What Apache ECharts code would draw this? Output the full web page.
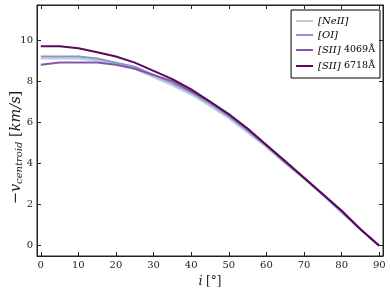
<!DOCTYPE html>
<html><head><meta charset="utf-8">
<script src="https://cdn.jsdelivr.net/npm/echarts@6/dist/echarts.min.js"></script>
<style>html,body{margin:0;padding:0;background:#fff}#c{width:390px;height:291px}</style>
</head><body><div id="c"></div>
<script>
const inclination = [0,5,10,15,20,25,30,35,40,45,50,55,60,65,70,75,80,85,90];
const neII   = [9.1,9.1,9.1,9.0,8.85,8.6,8.2,7.8,7.35,6.8,6.2,5.5,4.8,4.0,3.25,2.45,1.6,0.8,0.0];
const oI     = [9.2,9.2,9.2,9.1,8.9,8.7,8.3,7.9,7.45,6.9,6.3,5.6,4.85,4.05,3.3,2.5,1.65,0.8,0.0];
const sII4069= [8.8,8.9,8.9,8.9,8.8,8.6,8.3,8.0,7.5,7.0,6.35,5.65,4.9,4.1,3.3,2.5,1.7,0.8,0.0];
const sII6718= [9.7,9.7,9.6,9.4,9.2,8.9,8.5,8.1,7.6,7.0,6.4,5.7,4.9,4.1,3.3,2.5,1.7,0.8,0.0];
const xTicks = [0,10,20,30,40,50,60,70,80,90];
const yTicks = [0,2,4,6,8,10];
const seriesNames = ['[NeII]','[OI]','[SII] 4069Å','[SII] 6718Å'];
const seriesData = [neII, oI, sII4069, sII6718];
const colors = ['#b3cde3','#8c96c6','#8856a7','#5a0a5a'];

const serif = '"DejaVu Serif", "Liberation Serif", serif';
const chart = echarts.init(document.getElementById('c'));
const axisLine = {show:true, onZero:false, lineStyle:{color:'#222', width:1}};
const legendLabel = {
  '[NeII]': '{i|[NeII]}',
  '[OI]': '{i|[OI]}',
  '[SII] 4069Å': '{i|[SII]} {n|4069Å}',
  '[SII] 6718Å': '{i|[SII]} {n|6718Å}'
};
chart.setOption({
  animation:false,
  grid:{left:37, right:7, top:5, bottom:35, containLabel:false, outerBoundsMode:'none',
        show:true, borderColor:'#222', borderWidth:1, backgroundColor:'transparent'},
  legend:{
    data: seriesNames, right:10, top:10, orient:'vertical',
    borderColor:'#000', borderWidth:1, borderRadius:0, padding:[6,5,6,5],
    itemWidth:17, itemHeight:2, itemGap:4, icon:'rect',
    formatter: n => legendLabel[n],
    textStyle:{rich:{
      i:{fontFamily:serif, fontStyle:'italic', fontSize:10, color:'#000', lineHeight:13},
      n:{fontFamily:serif, fontSize:9.5, color:'#000', lineHeight:13}
    }}
  },
  xAxis:[{
    type:'value', min:-1, max:91, position:'bottom',
    axisLine, splitLine:{show:false},
    axisTick:{show:true, inside:true, length:4, customValues:xTicks, lineStyle:{color:'#222'}},
    axisLabel:{customValues:xTicks, fontFamily:serif, fontSize:10, color:'#222', margin:4},
    name:'{i|i} {n|[°]}', nameLocation:'middle', nameGap:19, nameMoveOverlap:false,
    nameTextStyle:{rich:{
      i:{fontFamily:serif, fontStyle:'italic', fontSize:13, color:'#222'},
      n:{fontFamily:serif, fontSize:12, color:'#222'}
    }}
  },{
    type:'value', min:-1, max:91, position:'top',
    axisLine, splitLine:{show:false},
    axisTick:{show:true, inside:true, length:4, customValues:xTicks, lineStyle:{color:'#222'}},
    axisLabel:{show:false}
  }],
  yAxis:[{
    type:'value', min:-0.5, max:11.7, position:'left',
    axisLine, splitLine:{show:false},
    axisTick:{show:true, inside:true, length:4, customValues:yTicks, lineStyle:{color:'#222'}},
    axisLabel:{customValues:yTicks, fontFamily:serif, fontSize:10, color:'#222', margin:4},
    name:'{n|−}{i|v}{s|centroid}{n| [}{i|km/s}{n|]}', nameLocation:'middle', nameGap:13, nameRotate:90,
    nameMoveOverlap:false,
    nameTextStyle:{padding:[0,34,0,0], rich:{
      i:{fontFamily:serif, fontStyle:'italic', fontSize:14.5, color:'#222'},
      s:{fontFamily:serif, fontStyle:'italic', fontSize:10, color:'#222', verticalAlign:'bottom', padding:[6,0,0,0]},
      n:{fontFamily:serif, fontSize:14.5, color:'#222'}
    }}
  },{
    type:'value', min:-0.5, max:11.7, position:'right',
    axisLine, splitLine:{show:false},
    axisTick:{show:true, inside:true, length:4, customValues:yTicks, lineStyle:{color:'#222'}},
    axisLabel:{show:false}
  }],
  series: seriesNames.map((n,k)=>({
    name:n, type:'line', symbol:'none', color:colors[k],
    lineStyle:{width:2, color:colors[k]},
    data: inclination.map((x,j)=>[x, seriesData[k][j]])
  }))
});
</script></body></html>
